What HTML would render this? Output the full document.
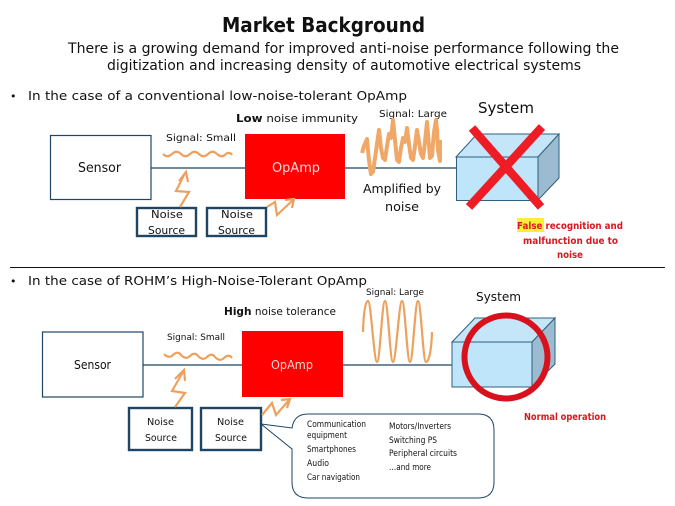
<!DOCTYPE html>
<html>
<head>
<meta charset="utf-8">
<title>Market Background</title>
<style>
html,body{margin:0;padding:0;background:#fff;width:675px;height:506px;overflow:hidden}
svg{display:block}
text{font-family:"DejaVu Sans","Liberation Sans",sans-serif;fill:#111}
.b{fill:none;stroke:#1f4564;stroke-width:1.2}
.box{fill:#fff;stroke:#1f4564;stroke-width:2.4}
.o{fill:none;stroke:#eda15e;stroke-width:2.2}
.n{font-size:11px}
.s{font-size:10px}
.r{font-size:10px;font-weight:bold;fill:#d8181f}
.c{font-size:8.5px}
</style>
</head>
<body>
<svg width="675" height="506" viewBox="0 0 675 506" xmlns="http://www.w3.org/2000/svg">
<text x="222" y="32" font-size="20.5" font-weight="bold" textLength="203" lengthAdjust="spacingAndGlyphs">Market Background</text>
<text x="68" y="53" font-size="14" textLength="551" lengthAdjust="spacingAndGlyphs">There is a growing demand for improved anti-noise performance following the</text>
<text x="107" y="70" font-size="14" textLength="474" lengthAdjust="spacingAndGlyphs">digitization and increasing density of automotive electrical systems</text>

<text x="10" y="100" font-size="11">•</text>
<text x="28" y="100" font-size="12.5" textLength="379" lengthAdjust="spacingAndGlyphs">In the case of a conventional low-noise-tolerant OpAmp</text>

<!-- top diagram -->
<line x1="151" y1="168" x2="456" y2="168" class="b"/>
<rect x="50.5" y="135.5" width="100.5" height="64" class="b" style="fill:#fff"/>
<text x="78" y="172" font-size="13.5" textLength="43" lengthAdjust="spacingAndGlyphs">Sensor</text>
<rect x="245" y="134" width="100" height="65" fill="#fe0000"/>
<text x="272" y="172" font-size="13.5" textLength="48" lengthAdjust="spacingAndGlyphs" style="fill:#fbd6d6">OpAmp</text>

<text x="166" y="141" class="s" textLength="70" lengthAdjust="spacingAndGlyphs">Signal: Small</text>
<path class="o" d="M163 154 c3 3 6 3 9 0 c3 -3 6 -3 9 0 c3 3 6 3 9 0 c3 -3 6 -3 9 0 c3 3 6 3 9 0 c3 -3 6 -3 9 0 c3 3 6 3 9 0 c2 -2 5 -1 6 1"/>
<text x="236" y="122" font-size="11" textLength="122" lengthAdjust="spacingAndGlyphs"><tspan font-weight="bold">Low</tspan> noise immunity</text>
<text x="379" y="117" class="s" textLength="68" lengthAdjust="spacingAndGlyphs">Signal: Large</text>
<text x="478" y="113" font-size="15.5" textLength="56" lengthAdjust="spacingAndGlyphs">System</text>

<polyline fill="none" stroke="#f0a868" stroke-width="4" stroke-linejoin="round" points="362,153 364,146 367,139 368,150 369,160 370,168 371,174 373,172 375,158 377,144 379,130 381,148 383,158 385,160 387,146 389,134 391,138 393,120 395,140 397,160 399,162 401,148 403,138 405,142 407,128 409,144 411,158 413,160 415,146 417,130 419,142 421,154 423,158 425,142 427,122 428,134 430,158 432,156 434,132 436,120 437,130 438,150 440,161 440,140"/>

<text x="363" y="193" font-size="12" textLength="78" lengthAdjust="spacingAndGlyphs">Amplified by</text>
<text x="385" y="211" font-size="12" textLength="34" lengthAdjust="spacingAndGlyphs">noise</text>

<polygon points="456,157 477,134 559,134 538,157" fill="#c5e6f8" stroke="#2f5f7f" stroke-width="1"/>
<polygon points="538,157 559,134 559,178 538,200" fill="#9dbbd0" stroke="#2f5f7f" stroke-width="1"/>
<rect x="456.5" y="157" width="81.5" height="43.5" fill="#bfe5fb" stroke="#2f5f7f" stroke-width="1"/>
<line x1="472" y1="128" x2="541" y2="207" stroke="#ee1c25" stroke-width="8.5"/>
<line x1="542" y1="127" x2="469" y2="207" stroke="#ee1c25" stroke-width="8.5"/>

<rect x="517" y="218" width="27" height="14" fill="#ffee33"/>
<text x="517" y="229" class="r" textLength="106" lengthAdjust="spacingAndGlyphs">False<tspan> recognition and</tspan></text>
<text x="523" y="244" class="r" textLength="95" lengthAdjust="spacingAndGlyphs">malfunction due to</text>
<text x="557" y="258" class="r" textLength="26" lengthAdjust="spacingAndGlyphs">noise</text>

<rect x="137" y="208" width="59" height="28" class="box"/>
<rect x="207" y="208" width="59" height="28" class="box"/>
<text x="151" y="218" class="n" textLength="32" lengthAdjust="spacingAndGlyphs">Noise</text>
<text x="148" y="234" class="n" textLength="37" lengthAdjust="spacingAndGlyphs">Source</text>
<text x="221" y="218" class="n" textLength="32" lengthAdjust="spacingAndGlyphs">Noise</text>
<text x="218" y="234" class="n" textLength="37" lengthAdjust="spacingAndGlyphs">Source</text>
<polyline class="o" points="180,207 189,192 176,191 185,173"/>
<polyline class="o" points="179,181 186,172 188,182"/>
<polyline class="o" points="267,207 275,202 277,215 293,200"/>
<polyline class="o" points="285,200 294,199 292,208"/>

<line x1="10" y1="267.5" x2="665" y2="267.5" stroke="#111" stroke-width="1"/>

<text x="10" y="285" font-size="11">•</text>
<text x="28" y="285" font-size="12.5" textLength="339" lengthAdjust="spacingAndGlyphs">In the case of ROHM’s High-Noise-Tolerant OpAmp</text>

<!-- bottom diagram -->
<line x1="143" y1="365" x2="452" y2="365" class="b"/>
<rect x="42.5" y="332" width="100.5" height="65" class="b" style="fill:#fff"/>
<text x="74" y="369" font-size="12.5" textLength="37" lengthAdjust="spacingAndGlyphs">Sensor</text>
<rect x="242" y="331" width="101" height="66" fill="#fe0000"/>
<text x="271" y="369" font-size="12.5" textLength="42" lengthAdjust="spacingAndGlyphs" style="fill:#fbd6d6">OpAmp</text>

<text x="167" y="340" font-size="9" textLength="58" lengthAdjust="spacingAndGlyphs">Signal: Small</text>
<path class="o" d="M164 354 c3 3 6 4 9 1 c3 -3 6 -3 8 0 c3 3 6 4 9 1 c3 -3 6 -3 8 0 c3 3 6 4 9 1 c3 -3 6 -3 8 0 c3 3 6 4 9 1 c3 -3 6 -3 8 0"/>
<text x="224" y="315" font-size="10.5" textLength="112" lengthAdjust="spacingAndGlyphs"><tspan font-weight="bold">High</tspan> noise tolerance</text>
<text x="366" y="295" font-size="9" textLength="58" lengthAdjust="spacingAndGlyphs">Signal: Large</text>
<text x="476" y="301" font-size="12" textLength="45" lengthAdjust="spacingAndGlyphs">System</text>

<path class="o" d="M363 332 C363.5 315 365 301 368 301 C371 301 374 362 377 362 C380 362 382 301 385 301 C388 301 390 362 393 362 C396 362 399 301 402 301 C405 301 407 362 410 362 C413 362 415 301 418 301 C421 301 423 362 426 362 C429 362 431.5 350 432 332"/>

<polygon points="452,342 475,318 555,318 532,342" fill="#c5e6f8" stroke="#2f5f7f" stroke-width="1"/>
<polygon points="532,342 555,318 555,364 532,387" fill="#9dbbd0" stroke="#2f5f7f" stroke-width="1"/>
<rect x="452" y="342" width="80" height="45" fill="#bfe5fb" stroke="#2f5f7f" stroke-width="1"/>
<circle cx="506" cy="357" r="41.5" fill="none" stroke="#d8121c" stroke-width="6"/>
<text x="524" y="420" class="r" font-size="9" textLength="82" lengthAdjust="spacingAndGlyphs">Normal operation</text>

<rect x="129" y="408" width="63" height="42" class="box"/>
<rect x="201" y="408" width="60" height="42" class="box"/>
<text x="147" y="425" class="s" textLength="27" lengthAdjust="spacingAndGlyphs">Noise</text>
<text x="145" y="441" class="s" textLength="32" lengthAdjust="spacingAndGlyphs">Source</text>
<text x="217" y="425" class="s" textLength="27" lengthAdjust="spacingAndGlyphs">Noise</text>
<text x="215" y="441" class="s" textLength="32" lengthAdjust="spacingAndGlyphs">Source</text>
<polyline class="o" points="175,407 185,393 172,391 183,372"/>
<polyline class="o" points="175,379 184,370 185,381"/>
<polyline class="o" points="262,415 272,403 276,415 290,399"/>
<polyline class="o" points="281,400 290,399 287,408"/>

<path d="M292 428 Q294 414 308 414 H478 Q494 414 494 430 V482 Q494 498 478 498 H308 Q292 498 292 482 V449 L261 424 Z" fill="#fff" stroke="#1f4564" stroke-width="1"/>
<g class="c">
<text x="307" y="427" class="c" textLength="59" lengthAdjust="spacingAndGlyphs">Communication</text>
<text x="307" y="438" class="c" textLength="40" lengthAdjust="spacingAndGlyphs">equipment</text>
<text x="307" y="452" class="c" textLength="49" lengthAdjust="spacingAndGlyphs">Smartphones</text>
<text x="307" y="466" class="c" textLength="22" lengthAdjust="spacingAndGlyphs">Audio</text>
<text x="307" y="480" class="c" textLength="53" lengthAdjust="spacingAndGlyphs">Car navigation</text>
<text x="389" y="429" class="c" textLength="62" lengthAdjust="spacingAndGlyphs">Motors/Inverters</text>
<text x="389" y="443" class="c" textLength="48" lengthAdjust="spacingAndGlyphs">Switching PS</text>
<text x="389" y="456" class="c" textLength="68" lengthAdjust="spacingAndGlyphs">Peripheral circuits</text>
<text x="389" y="470" class="c" textLength="42" lengthAdjust="spacingAndGlyphs">…and more</text>
</g>
</svg>
</body>
</html>
